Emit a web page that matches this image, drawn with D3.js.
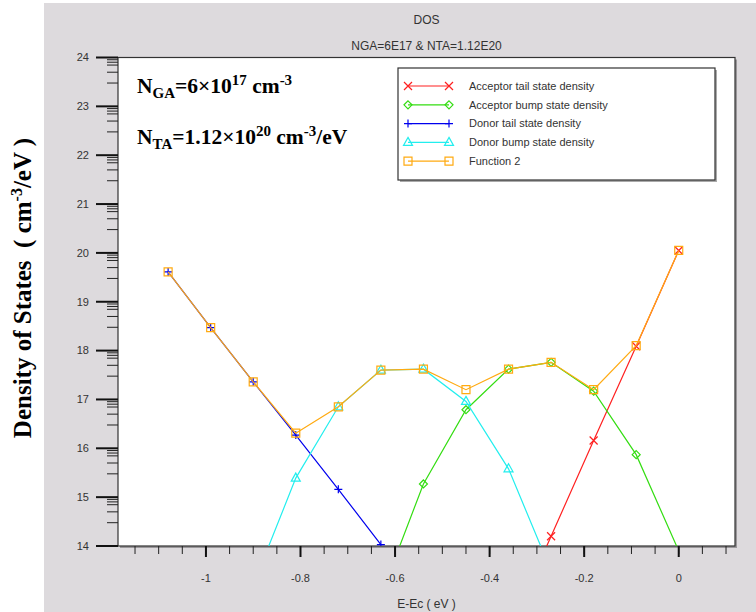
<!DOCTYPE html>
<head>
  <meta charset="utf-8">
  <title>DOS</title>
  <script src="https://d3js.org/d3.v7.min.js"></script>
  <style>
    body { margin: 0; background: #fff; }
    svg { display: block; }
    .tick-label { font-family: "Liberation Sans", Arial, sans-serif; font-size: 11px; fill: #333; }
    .legend-text { font-family: "Liberation Sans", Arial, sans-serif; font-size: 11px; fill: #333; }
    .title { font-family: "Liberation Sans", Arial, sans-serif; font-size: 12px; fill: #333; }
    .note { font-family: "Liberation Serif", "Times New Roman", serif; font-weight: bold; fill: #000; }
  </style>
</head>

<body>
  <script>
    // energy grid (E-Ec, eV)
    var energies = [-1.08, -0.99, -0.90, -0.81, -0.72, -0.63, -0.54, -0.45, -0.36, -0.27, -0.18, -0.09, 0.00];

    // log10 density values, null where the series is not drawn
    var acceptorTail = [null, null, null, null, null, null, null, null, 12.24, 14.20, 16.16, 18.09, 20.05];
    var acceptorBump = [null, null, null, null, null, 12.99, 15.27, 16.79, 17.62, 17.76, 17.17, 15.87, 13.90];
    var donorTail    = [19.61, 18.47, 17.36, 16.27, 15.16, 14.03, null, null, null, null, null, null, null];
    var donorBump    = [null, null, 13.20, 15.39, 16.85, 17.60, 17.62, 16.96, 15.58, 13.49, null, null, null];
    var function2    = [19.61, 18.47, 17.36, 16.31, 16.85, 17.60, 17.62, 17.20, 17.62, 17.76, 17.20, 18.10, 20.05];

    var xTicks = [-1, -0.8, -0.6, -0.4, -0.2, 0];
    var yTicks = [14, 15, 16, 17, 18, 19, 20, 21, 22, 23, 24];

    var series = [
      {name: "Acceptor tail state density", values: acceptorTail, color: "#ff2020", marker: "x"},
      {name: "Acceptor bump state density", values: acceptorBump, color: "#33dd11", marker: "diamond"},
      {name: "Donor tail state density", values: donorTail, color: "#0000ee", marker: "plus"},
      {name: "Donor bump state density", values: donorBump, color: "#22eeee", marker: "triangle"},
      {name: "Function 2", values: function2, color: "#ffaa11", marker: "square"}
    ];

    var W = 756, H = 612;
    var plot = {left: 118, top: 57.5, right: 735, bottom: 546};

    var svg = d3.select("body").append("svg")
      .attr("width", W)
      .attr("height", H);

    // grey page behind the plot
    svg.append("rect")
      .attr("x", 44).attr("y", 3)
      .attr("width", W - 44).attr("height", H - 3)
      .attr("fill", "#dddadd");

    var x = d3.scaleLinear()
      .domain([-1.186, 0.119])
      .range([plot.left, plot.right]);

    var y = d3.scaleLinear()
      .domain([14, 24])
      .range([plot.bottom, plot.top]);

    // plot area with a soft shadow
    svg.append("rect")
      .attr("x", plot.left + 2).attr("y", plot.top + 2)
      .attr("width", plot.right - plot.left).attr("height", plot.bottom - plot.top)
      .attr("fill", "#9a979a");
    svg.append("rect")
      .attr("x", plot.left).attr("y", plot.top)
      .attr("width", plot.right - plot.left).attr("height", plot.bottom - plot.top)
      .attr("fill", "#fff")
      .attr("stroke", "#333")
      .attr("stroke-width", 1.2);

    svg.append("defs").append("clipPath")
      .attr("id", "clip")
      .append("rect")
        .attr("x", plot.left).attr("y", plot.top)
        .attr("width", plot.right - plot.left).attr("height", plot.bottom - plot.top);

    // ---- x axis ----
    var xAxis = svg.append("g");
    var xMinor = d3.range(-23, 3).map(d => d * 0.05).filter(d => x(d) > plot.left + 1 && x(d) < plot.right - 1);
    xAxis.selectAll("line.minor")
      .data(xMinor)
      .enter().append("line")
        .attr("x1", d => x(d)).attr("x2", d => x(d))
        .attr("y1", plot.bottom).attr("y2", plot.bottom + 8)
        .attr("stroke", "#222").attr("stroke-width", 1);
    xAxis.selectAll("line.major")
      .data(xTicks)
      .enter().append("line")
        .attr("x1", d => x(d)).attr("x2", d => x(d))
        .attr("y1", plot.bottom).attr("y2", plot.bottom + 11)
        .attr("stroke", "#111").attr("stroke-width", 2);
    xAxis.selectAll("text")
      .data(xTicks)
      .enter().append("text")
        .attr("class", "tick-label")
        .attr("x", d => x(d))
        .attr("y", plot.bottom + 36)
        .attr("text-anchor", "middle")
        .text(d => String(+d.toFixed(1)));

    // ---- y axis ----
    var yAxis = svg.append("g");
    var yMinor = [];
    yTicks.slice(0, -1).forEach(function(d) {
      [3, 5, 7, 8, 9].forEach(k => yMinor.push(d + Math.log10(k)));
    });
    yAxis.selectAll("line.minor")
      .data(yMinor)
      .enter().append("line")
        .attr("x1", plot.left - 11).attr("x2", plot.left)
        .attr("y1", d => y(d)).attr("y2", d => y(d))
        .attr("stroke", "#222").attr("stroke-width", 1);
    yAxis.selectAll("line.major")
      .data(yTicks)
      .enter().append("line")
        .attr("x1", plot.left - 22).attr("x2", plot.left)
        .attr("y1", d => y(d)).attr("y2", d => y(d))
        .attr("stroke", "#111").attr("stroke-width", 2);
    yAxis.selectAll("text")
      .data(yTicks)
      .enter().append("text")
        .attr("class", "tick-label")
        .attr("x", 89)
        .attr("y", d => y(d))
        .attr("dy", "0.35em")
        .attr("text-anchor", "end")
        .text(d => d);

    // ---- titles ----
    var cx = (plot.left + plot.right) / 2;
    svg.append("text").attr("class", "title")
      .attr("x", cx).attr("y", 24).attr("text-anchor", "middle")
      .text("DOS");
    svg.append("text").attr("class", "title")
      .attr("x", cx).attr("y", 50).attr("text-anchor", "middle")
      .text("NGA=6E17 & NTA=1.12E20");
    svg.append("text").attr("class", "title")
      .attr("x", cx).attr("y", 608).attr("text-anchor", "middle")
      .text("E-Ec ( eV )");

    var yLabel = svg.append("text")
      .attr("class", "note")
      .attr("transform", "translate(31,288) rotate(-90)")
      .attr("text-anchor", "middle")
      .style("font-size", "25px");
    yLabel.append("tspan").text("Density of States\u00a0\u00a0( cm");
    yLabel.append("tspan").attr("dy", -9).style("font-size", "16px").text("-3");
    yLabel.append("tspan").attr("dy", 9).text("/eV )");

    // ---- annotation ----
    function note(yPos, sub, mid, exp, unitExp, tail) {
      var t = svg.append("text").attr("class", "note")
        .attr("x", 137).attr("y", yPos).style("font-size", "21.5px");
      t.append("tspan").text("N");
      t.append("tspan").attr("dy", 5).style("font-size", "15px").text(sub);
      t.append("tspan").attr("dy", -5).text(mid);
      t.append("tspan").attr("dy", -8).style("font-size", "15px").text(exp);
      t.append("tspan").attr("dy", 8).text(" cm");
      t.append("tspan").attr("dy", -8).style("font-size", "15px").text(unitExp);
      t.append("tspan").attr("dy", 8).text(tail);
    }
    note(93, "GA", "=6\u00d710", "17", "-3", "");
    note(144, "TA", "=1.12\u00d710", "20", "-3", "/eV");

    // ---- markers ----
    function drawMarker(g, type, px, py, color) {
      var s = 4;
      var p;
      if (type === "x") {
        p = "M" + (px - s) + "," + (py - s) + "L" + (px + s) + "," + (py + s) +
            "M" + (px - s) + "," + (py + s) + "L" + (px + s) + "," + (py - s);
      } else if (type === "plus") {
        p = "M" + (px - s) + "," + py + "L" + (px + s) + "," + py +
            "M" + px + "," + (py - s) + "L" + px + "," + (py + s);
      } else if (type === "diamond") {
        p = "M" + px + "," + (py - s) + "L" + (px + s) + "," + py + "L" + px + "," + (py + s) + "L" + (px - s) + "," + py + "Z";
      } else if (type === "triangle") {
        p = "M" + px + "," + (py - s - 1) + "L" + (px + s + 0.5) + "," + (py + s - 1) + "L" + (px - s - 0.5) + "," + (py + s - 1) + "Z";
      } else {
        p = "M" + (px - s) + "," + (py - s) + "h" + (2 * s) + "v" + (2 * s) + "h" + (-2 * s) + "Z";
      }
      g.append("path").attr("d", p)
        .attr("fill", "none").attr("stroke", color).attr("stroke-width", 1.2);
    }

    // ---- series ----
    var line = d3.line()
      .defined(d => d.v !== null)
      .x(d => x(d.e))
      .y(d => y(d.v));

    var plotArea = svg.append("g").attr("clip-path", "url(#clip)");
    series.forEach(function(s) {
      var pts = energies.map((e, i) => ({e: e, v: s.values[i]}));
      plotArea.append("path")
        .datum(pts)
        .attr("d", line)
        .attr("fill", "none")
        .attr("stroke", s.color)
        .attr("stroke-width", 1.2);
      var mg = plotArea.append("g");
      pts.filter(d => d.v !== null && d.v >= 14 && d.v <= 24)
        .forEach(d => drawMarker(mg, s.marker, x(d.e), y(d.v), s.color));
    });

    // ---- legend ----
    var leg = {left: 398, top: 68, right: 715, bottom: 180};
    svg.append("rect")
      .attr("x", leg.left + 2).attr("y", leg.top + 2)
      .attr("width", leg.right - leg.left).attr("height", leg.bottom - leg.top)
      .attr("fill", "#aaa");
    svg.append("rect")
      .attr("x", leg.left).attr("y", leg.top)
      .attr("width", leg.right - leg.left).attr("height", leg.bottom - leg.top)
      .attr("fill", "#fff").attr("stroke", "#333").attr("stroke-width", 1.2);

    var legendRows = svg.append("g");
    series.forEach(function(s, i) {
      var ly = 86 + i * 18.8;
      legendRows.append("line")
        .attr("x1", 408).attr("x2", 449)
        .attr("y1", ly).attr("y2", ly)
        .attr("stroke", s.color).attr("stroke-width", 1.2);
      drawMarker(legendRows, s.marker, 408, ly, s.color);
      drawMarker(legendRows, s.marker, 449, ly, s.color);
      legendRows.append("text")
        .attr("class", "legend-text")
        .attr("x", 469).attr("y", ly)
        .attr("dy", "0.35em")
        .text(s.name);
    });
  </script>
</body>
